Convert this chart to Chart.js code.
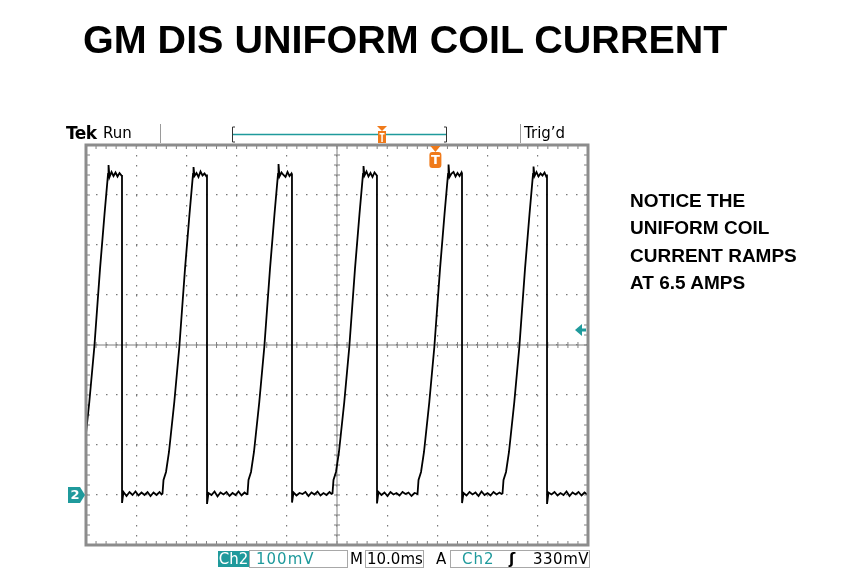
<!DOCTYPE html>
<html>
<head>
<meta charset="utf-8">
<script src="https://cdn.jsdelivr.net/npm/chart.js@4.4.0/dist/chart.umd.min.js"></script>
<style>
  body { margin: 0; background: #fff; width: 842px; height: 571px; overflow: hidden; position: relative; font-family: "Liberation Sans", Arial, sans-serif; }
  canvas { position: absolute; left: 0; top: 0; }
  .t { position: absolute; white-space: nowrap; line-height: 1; }
  #title { left: 83px; top: 20px; font-size: 39.5px; font-weight: bold; color: #000; }
  #note { left: 630px; top: 187px; font-size: 19px; font-weight: bold; line-height: 27.3px; color: #000; }
  .scope { font-family: "DejaVu Sans", sans-serif; font-size: 15px; color: #000; }
  .box { position: absolute; border: 1px solid #a8a8a8; height: 16px; top: 550px; }
  .teal { color: #1f9a9c; }
</style>
</head>
<body>
<canvas id="scope" width="842" height="571"></canvas>

<div class="t" id="title">GM DIS UNIFORM COIL CURRENT</div>
<div class="t" id="note">NOTICE THE<br>UNIFORM COIL<br>CURRENT RAMPS<br>AT 6.5 AMPS</div>

<div class="t" style="left:66px;top:125px;font-family:'DejaVu Sans',sans-serif;font-size:17px;font-weight:bold;letter-spacing:-0.6px;">Tek</div>
<div class="t scope" style="left:103px;top:126px;">Run</div>
<div class="t scope" style="left:524px;top:126px;">Trig’d</div>

<div class="t scope" style="left:218px;top:551px;width:31px;height:16px;background:#1f9a9c;color:#fff;text-align:center;line-height:16px;">Ch2</div>
<div class="box" style="left:249px;width:97px;"></div>
<div class="t scope teal" style="left:256px;top:551px;letter-spacing:1px;line-height:16px;">100mV</div>
<div class="t scope" style="left:350px;top:551px;line-height:16px;">M</div>
<div class="box" style="left:365px;width:57px;"></div>
<div class="t scope" style="left:367px;top:551px;line-height:16px;">10.0ms</div>
<div class="t scope" style="left:436px;top:551px;line-height:16px;">A</div>
<div class="box" style="left:450px;width:138px;"></div>
<div class="t scope teal" style="left:462px;top:551px;letter-spacing:1px;line-height:16px;">Ch2</div>
<div class="t scope" style="left:509px;top:551px;font-weight:bold;line-height:16px;">ʃ</div>
<div class="t scope" style="left:533px;top:551px;line-height:16px;letter-spacing:0.5px;">330mV</div>

<script>
// Ch2 coil current trace, 10 ms/div, 100 mV/div, ground at 0 mV
const timeMs = [
  -1.69, -1.49, -0.99, -0.40, 0.66, 1.66, 2.79, 3.69, 4.39, 4.49, 4.68, 5.08, 5.48, 5.88, 6.28, 6.68, 7.07, 7.17,
  7.18, 7.47, 8.07, 8.67, 9.27, 9.86, 10.46, 11.06, 11.66, 12.26, 12.85, 13.45, 14.05, 14.65, 15.04,
  15.24, 15.44, 15.94, 16.53, 17.59, 18.59, 19.72, 20.62, 21.32, 21.42, 21.61, 22.01, 22.41, 22.81, 23.21, 23.61, 24.00, 24.10,
  24.11, 24.40, 25.00, 25.60, 26.20, 26.79, 27.39, 27.99, 28.59, 29.19, 29.78, 30.38, 30.98, 31.58, 31.97,
  32.17, 32.37, 32.87, 33.46, 34.52, 35.52, 36.65, 37.55, 38.25, 38.35, 38.54, 38.94, 39.34, 39.74, 40.14, 40.54, 40.93, 41.03,
  41.04, 41.33, 41.93, 42.53, 43.13, 43.72, 44.32, 44.92, 45.52, 46.12, 46.71, 47.31, 47.91, 48.51, 48.90,
  49.10, 49.30, 49.80, 50.39, 51.45, 52.45, 53.58, 54.48, 55.18, 55.28, 55.47, 55.87, 56.27, 56.67, 57.07, 57.47, 57.86, 57.96,
  57.97, 58.26, 58.86, 59.46, 60.06, 60.65, 61.25, 61.85, 62.45, 63.05, 63.64, 64.24, 64.84, 65.44, 65.83,
  66.04, 66.24, 66.74, 67.33, 68.39, 69.39, 70.52, 71.42, 72.12, 72.22, 72.41, 72.81, 73.21, 73.61, 74.01, 74.41, 74.80, 74.90,
  74.91, 75.20, 75.80, 76.40, 77.00, 77.59, 78.19, 78.79, 79.39, 79.99, 80.58, 81.18, 81.78, 82.38, 82.77,
  82.97, 83.17, 83.67, 84.26, 85.32, 86.32, 87.45, 88.35, 89.05, 89.15, 89.34, 89.74, 90.14, 90.54, 90.94, 91.34, 91.73, 91.83,
  91.84, 92.13, 92.73, 93.33, 93.93, 94.52, 95.12, 95.72, 96.32, 96.92, 97.51, 98.11, 98.71, 99.31, 99.70, 100.00
];
const ch2mV = [
  3, 30, 46, 86, 186, 296, 452, 562, 642, 660, 636, 646, 638, 645, 637, 644, 639, 640,
  -16, 6, -2, 6, 0, 7, -1, 5, 0, 6, -2, 5, 0, 6, 1,
  3, 30, 46, 86, 186, 296, 452, 562, 642, 656, 638, 644, 636, 647, 639, 643, 637, 641,
  -18, 4, 0, 7, -3, 5, 1, 6, -2, 4, 0, 7, -1, 5, 2,
  2, 30, 46, 86, 186, 296, 452, 562, 642, 662, 637, 645, 640, 636, 646, 638, 643, 639,
  -15, 5, -1, 4, 2, 6, -2, 5, 1, 7, -1, 4, 0, 6, 2,
  3, 30, 46, 86, 186, 296, 452, 562, 642, 658, 639, 647, 637, 644, 636, 645, 640, 638,
  -17, 6, 0, 5, -2, 6, 1, 4, -1, 6, 2, 5, -2, 4, 3,
  2, 30, 46, 86, 186, 296, 452, 562, 642, 661, 636, 643, 646, 637, 644, 638, 645, 640,
  -16, 4, -1, 6, 1, 5, -2, 7, 0, 4, -1, 6, 1, 5, 2,
  3, 30, 46, 86, 186, 296, 452, 562, 642, 657, 638, 646, 637, 643, 639, 645, 636, 641,
  -18, 5, 1, 6, -1, 4, 0, 7, -2, 5, 1, 6, -1, 5, 2, 3
];

const groundMv = 0;
const triggerLevelMv = 330;
const triggerTimeMs = 69.6;

const TEAL = '#1f9a9c';
const ORANGE = '#f07a1a';

const scopeDeco = {
  id: 'scopeDeco',
  beforeDatasetsDraw(chart) {
    const { ctx, chartArea: a, scales: { x, y } } = chart;
    const cx = x.getPixelForValue(50);
    const cy = y.getPixelForValue(300);
    ctx.save();
    ctx.strokeStyle = '#808080';
    ctx.lineWidth = 1;
    ctx.beginPath();
    ctx.moveTo(a.left, cy); ctx.lineTo(a.right, cy);
    ctx.moveTo(cx, a.top); ctx.lineTo(cx, a.bottom);
    // minor ticks on centre lines and inside the frame (every 1/5 division)
    for (let t = 0; t <= 100; t += 2) {
      const px = x.getPixelForValue(t);
      ctx.moveTo(px, cy - 3); ctx.lineTo(px, cy + 3);
      ctx.moveTo(px, a.top); ctx.lineTo(px, a.top + 4);
      ctx.moveTo(px, a.bottom); ctx.lineTo(px, a.bottom - 4);
    }
    for (let v = -100; v <= 700; v += 20) {
      const py = y.getPixelForValue(v);
      ctx.moveTo(cx - 3, py); ctx.lineTo(cx + 3, py);
      ctx.moveTo(a.left, py); ctx.lineTo(a.left + 4, py);
      ctx.moveTo(a.right, py); ctx.lineTo(a.right - 4, py);
    }
    ctx.stroke();
    ctx.restore();
  },
  afterDatasetsDraw(chart) {
    const { ctx, chartArea: a, scales: { x, y } } = chart;
    ctx.save();
    // frame
    ctx.strokeStyle = '#8c8c8c';
    ctx.lineWidth = 3;
    ctx.strokeRect(a.left, a.top, a.right - a.left, a.bottom - a.top);

    // header separators and record bar
    ctx.lineWidth = 1;
    ctx.strokeStyle = '#9a9a9a';
    ctx.beginPath();
    ctx.moveTo(160.5, 124); ctx.lineTo(160.5, a.top - 2);
    ctx.moveTo(520.5, 124); ctx.lineTo(520.5, a.top - 2);
    ctx.stroke();
    ctx.strokeStyle = '#333';
    ctx.beginPath();
    ctx.moveTo(235, 127); ctx.lineTo(232.5, 127); ctx.lineTo(232.5, 142); ctx.lineTo(235, 142);
    ctx.moveTo(444, 127); ctx.lineTo(446.5, 127); ctx.lineTo(446.5, 142); ctx.lineTo(444, 142);
    ctx.stroke();
    ctx.strokeStyle = TEAL;
    ctx.lineWidth = 1.5;
    ctx.beginPath();
    ctx.moveTo(233, 134.5); ctx.lineTo(446, 134.5);
    ctx.stroke();
    // small trigger position marker in record bar
    ctx.fillStyle = ORANGE;
    ctx.beginPath();
    ctx.moveTo(377, 126); ctx.lineTo(387, 126); ctx.lineTo(382, 131); ctx.closePath();
    ctx.fill();
    ctx.fillRect(378, 131, 8, 12);
    ctx.fillStyle = '#fff';
    ctx.fillRect(379.5, 133, 5, 1.5);
    ctx.fillRect(381.3, 133, 1.5, 9);

    // trigger position marker under the frame
    const tx = x.getPixelForValue(triggerTimeMs);
    ctx.fillStyle = ORANGE;
    ctx.beginPath();
    ctx.moveTo(tx - 5, a.top + 1); ctx.lineTo(tx + 5, a.top + 1); ctx.lineTo(tx, a.top + 7); ctx.closePath();
    ctx.fill();
    ctx.beginPath();
    ctx.roundRect(tx - 6, a.top + 7, 12, 16, 3);
    ctx.fill();
    ctx.fillStyle = '#fff';
    ctx.font = 'bold 13px "DejaVu Sans"';
    ctx.textAlign = 'center';
    ctx.textBaseline = 'middle';
    ctx.fillText('T', tx, a.top + 15.5);

    // ground reference marker
    const gy = y.getPixelForValue(groundMv);
    ctx.fillStyle = TEAL;
    ctx.beginPath();
    ctx.moveTo(a.left - 18, gy - 8);
    ctx.lineTo(a.left - 6, gy - 8);
    ctx.lineTo(a.left - 1, gy);
    ctx.lineTo(a.left - 6, gy + 8);
    ctx.lineTo(a.left - 18, gy + 8);
    ctx.closePath();
    ctx.fill();
    ctx.fillStyle = '#fff';
    ctx.font = 'bold 13px "DejaVu Sans"';
    ctx.fillText('2', a.left - 11, gy + 0.5);

    // trigger level arrow
    const ly = y.getPixelForValue(triggerLevelMv);
    ctx.fillStyle = TEAL;
    ctx.beginPath();
    ctx.moveTo(a.right - 13, ly);
    ctx.lineTo(a.right - 6, ly - 6);
    ctx.lineTo(a.right - 6, ly + 6);
    ctx.closePath();
    ctx.fill();
    ctx.fillRect(a.right - 7, ly - 1.5, 5, 3);
    ctx.restore();
  }
};

new Chart(document.getElementById('scope'), {
  type: 'line',
  data: {
    datasets: [{
      data: timeMs.map((t, i) => ({ x: t, y: ch2mV[i] })),
      borderColor: '#000',
      borderWidth: 1.8,
      pointRadius: 0,
      tension: 0,
      fill: false
    }]
  },
  options: {
    responsive: false,
    animation: false,
    layout: { padding: { left: 86, right: 254, top: 145, bottom: 26 } },
    plugins: { legend: { display: false }, tooltip: { enabled: false } },
    scales: {
      x: {
        type: 'linear', min: 0, max: 100,
        ticks: { display: false, stepSize: 10 },
        grid: { color: '#7a7a7a', lineWidth: 1.2, drawTicks: false },
        border: { display: false, dash: [1.5, 8.5] }
      },
      y: {
        min: -100, max: 700,
        ticks: { display: false, stepSize: 100 },
        grid: { color: '#7a7a7a', lineWidth: 1.2, drawTicks: false },
        border: { display: false, dash: [1.5, 8.5] }
      }
    }
  },
  plugins: [scopeDeco]
});
</script>
</body>
</html>
